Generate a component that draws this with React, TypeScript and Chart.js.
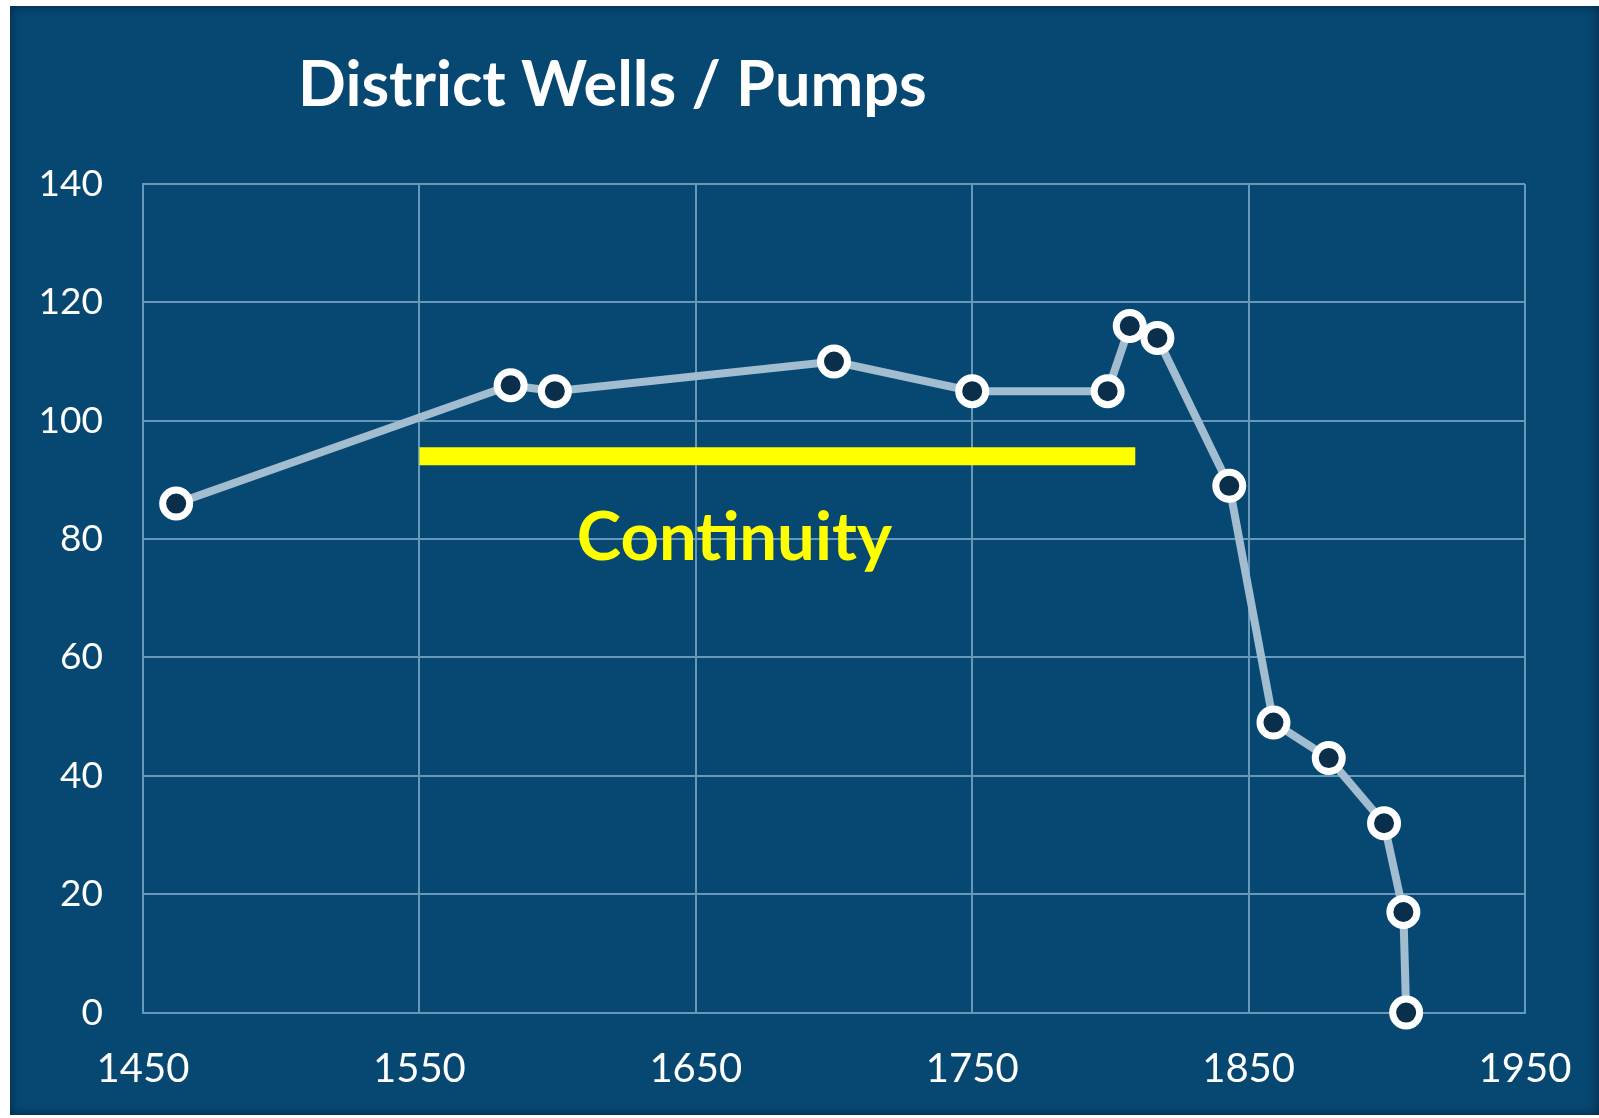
import React, { useEffect, useRef } from "react";
import { Chart, registerables } from "chart.js";

Chart.register(...registerables);

const years = [1462, 1583, 1599, 1700, 1750, 1799, 1807, 1817, 1843, 1859, 1879, 1899, 1906, 1907];
const wells = [86, 106, 105, 110, 105, 105, 116, 114, 89, 49, 43, 32, 17, 0];

const continuityYears = [1550, 1809];
const continuityLevel = [94, 94];

const xTicks = [1450, 1550, 1650, 1750, 1850, 1950];
const yTicks = [0, 20, 40, 60, 80, 100, 120, 140];

const titleText = "District Wells / Pumps";
const continuityText = "Continuity";
const continuityLabelAt = { x: 1664, y: 76.4 };

const W = 1599;
const H = 1118;

export default function App() {
  const ref = useRef<HTMLCanvasElement | null>(null);

  useEffect(() => {
    const canvas = ref.current;
    if (!canvas) return;

    const textPlugin = {
      id: "texts",
      afterDraw(chart: any) {
        const ctx = chart.ctx;
        ctx.save();
        ctx.fillStyle = "#ffffff";
        ctx.font = "bold 63px Lato";
        ctx.textAlign = "left";
        ctx.textBaseline = "alphabetic";
        ctx.fillText(titleText, 298, 106);

        const xs = chart.scales.x;
        const ys = chart.scales.y;
        ctx.fillStyle = "#ffff00";
        ctx.font = "bold 67px Lato";
        ctx.textAlign = "center";
        ctx.fillText(
          continuityText,
          xs.getPixelForValue(continuityLabelAt.x),
          ys.getPixelForValue(continuityLabelAt.y)
        );
        ctx.restore();
      },
    };

    const chart = new Chart(canvas, {
      type: "line",
      data: {
        datasets: [
          {
            label: "Wells",
            data: years.map((x, i) => ({ x, y: wells[i] })),
            borderColor: "#a3bdd0",
            borderWidth: 8,
            pointRadius: 13.5,
            pointBorderWidth: 7,
            pointBorderColor: "#ffffff",
            pointBackgroundColor: "#0b2f4a",
            tension: 0,
            clip: false,
            order: 1,
          },
          {
            label: "Continuity",
            data: continuityYears.map((x, i) => ({ x, y: continuityLevel[i] })),
            borderColor: "#ffff00",
            borderWidth: 18,
            borderCapStyle: "butt",
            pointRadius: 0,
            order: 2,
          },
        ],
      },
      plugins: [textPlugin],
      options: {
        responsive: false,
        animation: false,
        events: [],
        layout: { padding: { left: 0, right: 74, top: 184, bottom: 0 } },
        plugins: {
          legend: { display: false },
          title: { display: false },
          tooltip: { enabled: false },
        },
        scales: {
          x: {
            type: "linear",
            min: 1450,
            max: 1950,
            afterBuildTicks: (axis: any) => {
              axis.ticks = xTicks.map((v) => ({ value: v }));
            },
            afterFit: (axis: any) => {
              axis.height = 105.4;
              axis.paddingLeft = 0;
              axis.paddingRight = 0;
            },
            grid: { color: "#6797b9", lineWidth: 2, drawTicks: false },
            border: { color: "#6797b9", width: 2 },
            ticks: {
              color: "#ffffff",
              font: { family: "Lato", size: 40 },
              padding: 32,
              maxRotation: 0,
              callback: (v: any) => String(v),
            },
          },
          y: {
            type: "linear",
            min: 0,
            max: 140,
            afterBuildTicks: (axis: any) => {
              axis.ticks = yTicks.map((v) => ({ value: v }));
            },
            afterFit: (axis: any) => {
              axis.width = 143;
              axis.paddingTop = 0;
              axis.paddingBottom = 0;
            },
            grid: { color: "#6797b9", lineWidth: 2, drawTicks: false },
            border: { color: "#6797b9", width: 2 },
            ticks: {
              color: "#ffffff",
              font: { family: "Lato", size: 37 },
              padding: 40,
              callback: (v: any) => String(v),
            },
          },
        },
      },
    } as any);

    return () => chart.destroy();
  }, []);

  return (
    <div style={{ position: "absolute", left: 0, top: 0, width: W, height: H, background: "#ffffff", overflow: "hidden" }}>
      <div
        style={{
          position: "absolute",
          left: 10,
          top: 6,
          width: W - 10,
          height: 1109,
          background: "#074873",
          boxShadow: "inset 0 0 12px rgba(0,20,40,0.6)",
        }}
      />
      <canvas ref={ref} width={W} height={H} style={{ position: "absolute", left: 0, top: 0, width: W, height: H }} />
    </div>
  );
}
